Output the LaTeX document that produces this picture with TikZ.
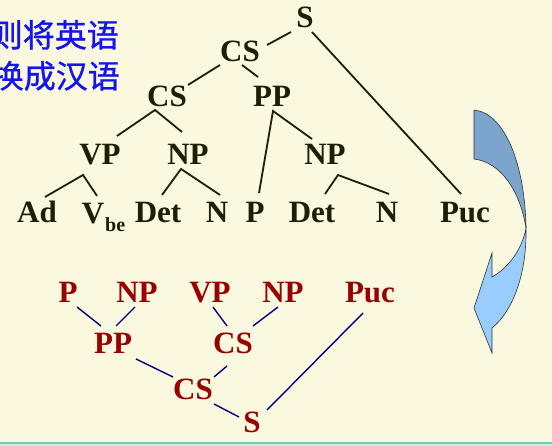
\documentclass[tikz,border=0pt]{standalone}
\usepackage{fontspec}
\setmainfont{Liberation Serif}
\newfontfamily\cjkfont[FakeBold=1]{Noto Sans CJK SC}
\usetikzlibrary{calc}
\definecolor{bgcream}{HTML}{FAF8DF}
\definecolor{inkblack}{HTML}{1E1E00}
\definecolor{inkred}{HTML}{990000}
\definecolor{inknavy}{HTML}{000080}
\definecolor{inkblue}{HTML}{1414F0}
\definecolor{arrowdark}{HTML}{7BA5CD}
\definecolor{arrowlight}{HTML}{99CCFF}
\definecolor{rulegreen}{HTML}{6CCFC0}
\definecolor{rulemint}{HTML}{C8EEDC}
\tikzset{wd/.style={font=\fontsize{31}{31}\selectfont\bfseries, text=inkblack, inner sep=0pt, anchor=base}}
\tikzset{rd/.style={wd, text=inkred}}
\tikzset{zh/.style={font=\fontsize{32}{32}\selectfont\cjkfont, text=inkblue, inner sep=0pt, anchor=base east}}
\tikzset{ln/.style={draw=inkblack, line width=1.8pt}}
\tikzset{bln/.style={draw=inknavy, line width=1.4pt}}

\begin{document}
\begin{tikzpicture}[x=1pt, y=-1pt]
        \useasboundingbox (0,0) rectangle (552,446);
        \fill[bgcream] (0,0) rectangle (552,446);
        \fill[rulemint] (0,444.5) rectangle (552,446);
        \fill[rulegreen] (0,442.5) rectangle (552,444.5);
        % heading
        \node [zh] (head1) at (119,47) {则将英语};
        \node [zh] (head2) at (120,88) {换成汉语};
        % english tree
        \node [wd] (S) at (305,28) {S};
        \node [wd] (CS1) at (240,62) {CS};
        \node [wd] (CS2) at (167,107) {CS};
        \node [wd] (PP) at (272,107) {PP};
        \node [wd] (VP) at (100,165) {VP};
        \node [wd] (NP1) at (188,165) {NP};
        \node [wd] (NP2) at (325,165) {NP};
        \node [wd] (Ad) at (37,223) {Ad};
        \node [wd] (Vbe) at (103.5,224) {V\kern1pt\raisebox{-8pt}{\fontsize{20}{20}\selectfont be}};
        \node [wd] (Det1) at (158,223) {Det};
        \node [wd] (N1) at (217,223) {N};
        \node [wd] (P) at (255,223) {P};
        \node [wd] (Det2) at (312,223) {Det};
        \node [wd] (N2) at (387,223) {N};
        \node [wd] (Puc) at (465,223) {Puc};
        \draw [ln] ([shift={(-14,4)}]S.base) -- ([shift={(27,-17)}]CS1.base);
        \draw [ln] ([shift={(7,4)}]S.base) -- ([shift={(-4,-29)}]Puc.base);
        \draw [ln] ([shift={(-20,3)}]CS1.base) -- ([shift={(21,-22)}]CS2.base);
        \draw [ln] ([shift={(2,3)}]CS1.base) -- ([shift={(-14,-30)}]PP.base);
        \draw [ln] ([shift={(17,-29)}]VP.base) -- ([shift={(-12,3)}]CS2.base) -- ([shift={(-6,-33)}]NP1.base);
        \draw [ln] ([shift={(4,-30)}]P.base) -- ([shift={(1,4)}]PP.base) -- ([shift={(-13,-26)}]NP2.base);
        \draw [ln] ([shift={(8,-26)}]Ad.base) -- ([shift={(-17,10)}]VP.base) -- ([shift={(-6.5,-28)}]Vbe.base);
        \draw [ln] ([shift={(4,-28)}]Det1.base) -- ([shift={(-7,4)}]NP1.base) -- ([shift={(3,-28)}]N1.base);
        \draw [ln] ([shift={(13,-29)}]Det2.base) -- ([shift={(13,10)}]NP2.base) -- ([shift={(2,-29)}]N2.base);
        % chinese order tree
        \node [rd] (Pb) at (68,303) {P};
        \node [rd] (NPa) at (137,303) {NP};
        \node [rd] (VPb) at (210,303) {VP};
        \node [rd] (NPb) at (283,303) {NP};
        \node [rd] (Pucb) at (370,303) {Puc};
        \node [rd] (PPb) at (113,354) {PP};
        \node [rd] (CSa) at (233,354) {CS};
        \node [rd] (CSb) at (193,400) {CS};
        \node [rd] (Sb) at (252,433) {S};
        \draw [bln] ([shift={(9,4)}]Pb.base) -- ([shift={(-12,-28)}]PPb.base);
        \draw [bln] ([shift={(-2,4)}]NPa.base) -- ([shift={(3,-28)}]PPb.base);
        \draw [bln] ([shift={(3,4)}]VPb.base) -- ([shift={(-6,-28)}]CSa.base);
        \draw [bln] ([shift={(-5,4)}]NPb.base) -- ([shift={(20,-28)}]CSa.base);
        \draw [bln] ([shift={(23,5)}]PPb.base) -- ([shift={(-20,-23)}]CSb.base);
        \draw [bln] ([shift={(-6,12)}]CSa.base) -- ([shift={(21,-23)}]CSb.base);
        \draw [bln] ([shift={(21,4)}]CSb.base) -- ([shift={(-13,-16)}]Sb.base);
        \draw [bln] ([shift={(-7,10)}]Pucb.base) -- ([shift={(15,-23)}]Sb.base);
        % turning arrow
        \filldraw [fill=arrowdark, draw=black!80, line width=0.6pt]
          (474,110) .. controls (505,113) and (525,165) .. (526,228)
          .. controls (520,190) and (500,162) .. (474,159) -- cycle;
        \filldraw [fill=arrowlight, draw=black!80, line width=0.6pt]
          (526,228) .. controls (527,275) and (512,312) .. (492,328)
          -- (492,353) -- (474,308) -- (492,253) -- (492,277)
          .. controls (508,268) and (522,250) .. (526,228) -- cycle;
\end{tikzpicture}
\end{document}
